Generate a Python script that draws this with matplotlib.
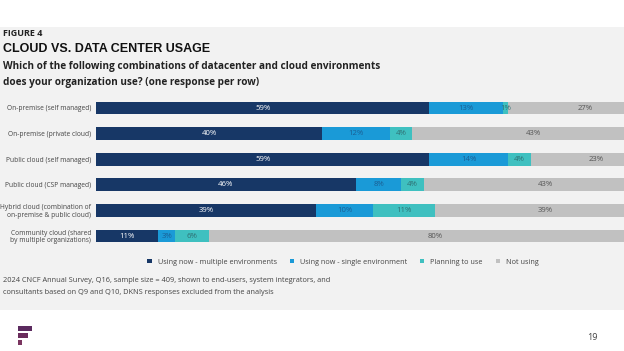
import numpy as np
import matplotlib.pyplot as plt
from matplotlib.patches import Rectangle

categories = ["On-premise (self managed)", "On-premise (private cloud)",
              "Public cloud (self managed)", "Public cloud (CSP managed)",
              "Hybrid cloud (combination of\non-premise & public cloud)",
              "Community cloud (shared\nby multiple organizations)"]
multiple = [59, 40, 59, 46, 39, 11]
single = [13, 12, 14, 8, 10, 3]
planning = [1, 4, 4, 4, 11, 6]
not_using = [27, 43, 23, 43, 39, 80]
series_names = ["Using now - multiple environments", "Using now - single environment",
                "Planning to use", "Not using"]

colors = ["#173766", "#1a9ad7", "#3fc0c0", "#c1c1c1"]
text_colors = ["white", "#1b5f94", "#2f6f72", "#555555"]

plt.rcParams['font.family'] = ['Open Sans', 'DejaVu Sans']

fig = plt.figure(figsize=(6.24, 3.51), dpi=100)
fig.patch.set_facecolor("white")
W, H = 624, 351

# grey panel behind everything
fig.patches.append(Rectangle((0, 1 - 310 / H), 1, (310 - 27) / H, transform=fig.transFigure,
                             facecolor="#f2f2f2", edgecolor="none", zorder=-10))

ax = fig.add_axes([96 / W, 1 - 248.8 / H, 565 / W, 153.6 / H])
ax.set_facecolor("none")
ax.set_zorder(1)
y = np.arange(len(categories))
left = np.zeros(len(categories))
for vals, c, tc, name in zip([multiple, single, planning, not_using], colors, text_colors, series_names):
    vals = np.array(vals, dtype=float)
    ax.barh(y, vals, left=left, height=0.5, color=c, label=name)
    for yi, l, v in zip(y, left, vals):
        ax.text(l + v / 2, yi, f"{int(v)}%", ha="center", va="center", fontsize=5.6, color=tc)
    left += vals
ax.set_xlim(0, 100)
ax.set_ylim(5.5, -0.5)
ax.set_yticks(y)
ax.set_yticklabels(categories, fontsize=4.8, color="#444444", linespacing=1.1)
ax.tick_params(axis="y", length=0, pad=3.5)
ax.set_xticks([])
for s in ax.spines.values():
    s.set_visible(False)
for lab in ax.get_yticklabels():
    lab.set_horizontalalignment("right")

handles, labels = ax.get_legend_handles_labels()
fig.legend(handles, labels, loc="center", bbox_to_anchor=(343 / W, 1 - 262 / H), ncol=4,
           frameon=False, fontsize=5.2, handlelength=0.6, handleheight=0.6, handletextpad=0.8,
           columnspacing=1.8, labelcolor="#444444")

fig.text(3 / W, 1 - 33 / H, "FIGURE 4", fontsize=6.5, fontweight="bold", color="#222222", va="center")
fig.text(3 / W, 1 - 49 / H, "CLOUD VS. DATA CENTER USAGE", fontsize=9, fontweight="bold",
         color="#111111", va="center", family=["Liberation Sans", "DejaVu Sans"])
fig.text(3 / W, 1 - 67 / H, "Which of the following combinations of datacenter and cloud environments",
         fontsize=7.2, fontweight="bold", color="#222222", va="center")
fig.text(3 / W, 1 - 83 / H, "does your organization use? (one response per row)",
         fontsize=7.2, fontweight="bold", color="#222222", va="center")

fig.text(3 / W, 1 - 281 / H, "2024 CNCF Annual Survey, Q16, sample size = 409, shown to end-users, system integrators, and",
         fontsize=5.3, color="#444444", va="center")
fig.text(3 / W, 1 - 293 / H, "consultants based on Q9 and Q10, DKNS responses excluded from the analysis",
         fontsize=5.3, color="#444444", va="center")

# logo
for x0, x1, yy, c in [(18, 32, 328, "#5b2a5e"), (18, 28, 335, "#6a2c5c"), (18, 22, 342, "#7a3560")]:
    fig.patches.append(Rectangle((x0 / W, 1 - (yy + 2.5) / H), (x1 - x0) / W, 5 / H,
                                 transform=fig.transFigure, facecolor=c, edgecolor="none"))
fig.text(592 / W, 1 - 337 / H, "19", fontsize=6.5, color="#444444", ha="center", va="center")

fig.savefig("out.png", dpi=100)
